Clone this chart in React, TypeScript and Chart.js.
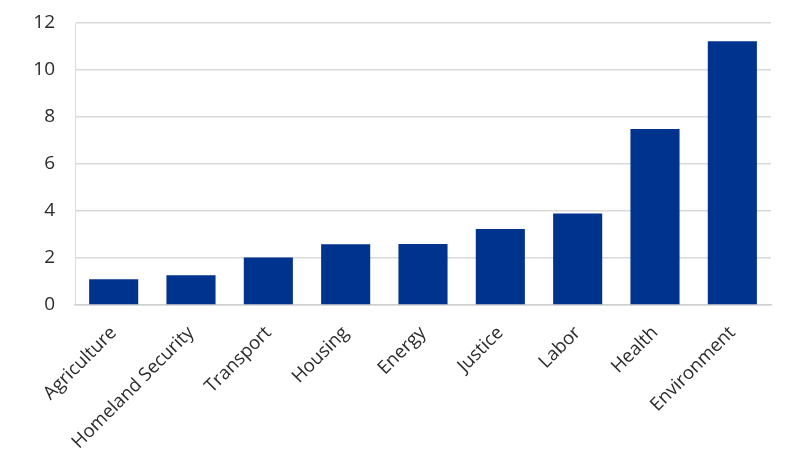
import React, { useEffect, useRef } from "react";
import { Chart, registerables } from "chart.js";

Chart.register(...registerables);

const categories = [
  "Agriculture",
  "Homeland Security",
  "Transport",
  "Housing",
  "Energy",
  "Justice",
  "Labor",
  "Health",
  "Environment",
];
const values = [1.1, 1.27, 2.02, 2.58, 2.6, 3.23, 3.89, 7.49, 11.22];
const yTicks = [0, 2, 4, 6, 8, 10, 12];

const FONT = "'Open Sans', 'Liberation Sans', sans-serif";

export default function App() {
  const ref = useRef<HTMLCanvasElement | null>(null);
  useEffect(() => {
    document.body.style.margin = "0";
    const ctx = ref.current!.getContext("2d")!;
    const chart = new Chart(ctx, {
      type: "bar",
      data: {
        labels: categories,
        datasets: [
          {
            data: values,
            backgroundColor: "#00338D",
            borderWidth: 0,
            barPercentage: 0.635,
            categoryPercentage: 1,
          },
        ],
      },
      options: {
        animation: false,
        responsive: false,
        maintainAspectRatio: false,
        layout: { padding: { top: 23, right: 29, left: 0, bottom: 0 } },
        plugins: { legend: { display: false }, tooltip: { enabled: false } },
        scales: {
          x: {
            grid: { display: false, drawTicks: false },
            border: { display: true, color: "#d0d0d0", width: 1.5 },
            ticks: {
              maxRotation: 45,
              minRotation: 45,
              padding: 17,
              color: "#2b2b2b",
              font: { family: FONT, size: 18.5 },
            },
            afterFit: (s: any) => {
              s.height = 157;
            },
          },
          y: {
            min: 0,
            max: 12,
            afterBuildTicks: (s: any) => {
              s.ticks = yTicks.map((v) => ({ value: v }));
            },
            grid: { color: "#d9d9d9", lineWidth: 1.5, drawTicks: false },
            border: { display: true, color: "#dcdcdc", width: 1 },
            ticks: {
              padding: 20,
              color: "#2b2b2b",
              font: { family: FONT, size: 19 },
            },
            afterFit: (s: any) => {
              s.width = 75;
              s.paddingTop = 0;
              s.paddingBottom = 0;
            },
          },
        },
      },
    });
    return () => chart.destroy();
  }, []);
  return (
    <div style={{ position: "fixed", left: 0, top: 0, width: 800, height: 462, background: "#fff" }}>
      <canvas ref={ref} width={800} height={462} />
    </div>
  );
}
